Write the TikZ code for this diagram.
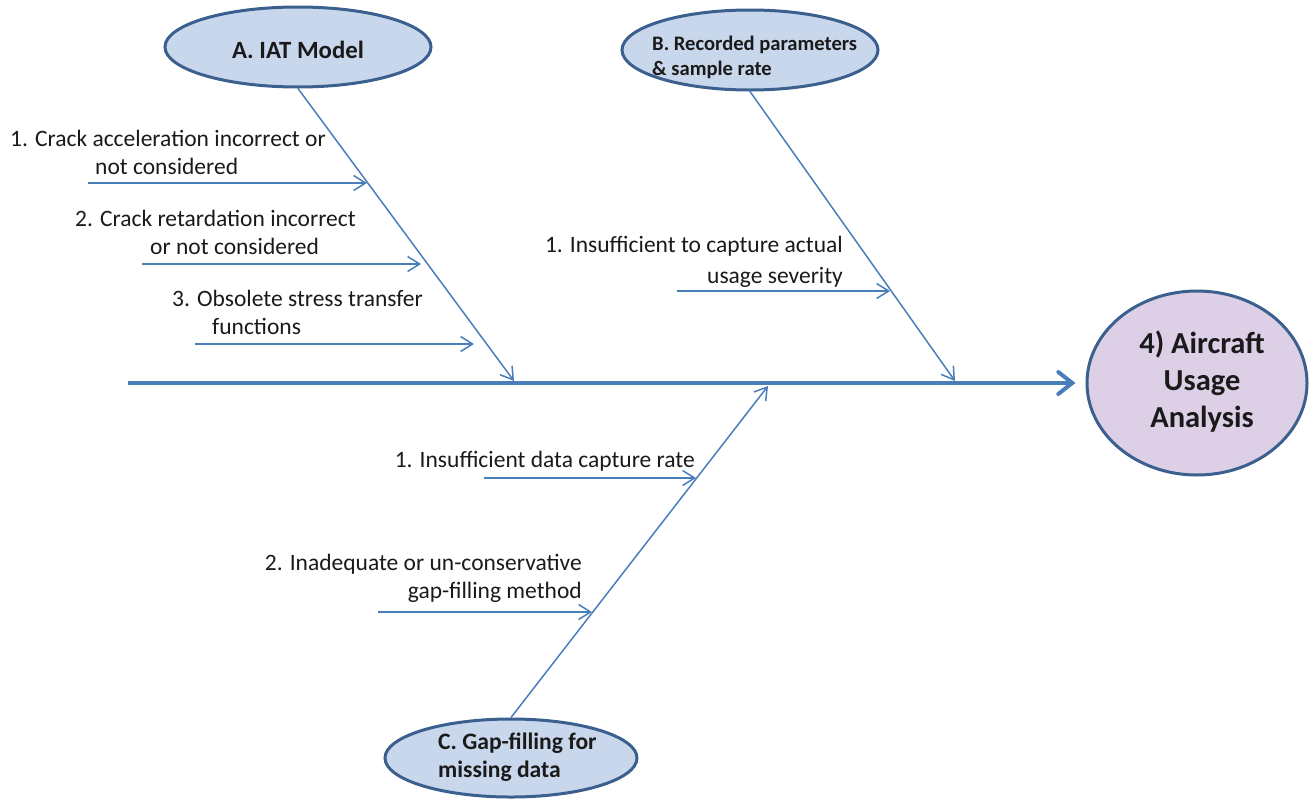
\documentclass[tikz,border=0pt]{standalone}
\usepackage{fontspec}
\setmainfont{Carlito}
\usetikzlibrary{arrows.meta,shapes.geometric}
\definecolor{boneblue}{HTML}{4A7EBB}
\definecolor{rimblue}{HTML}{3B5F8E}
\definecolor{causefill}{HTML}{C8D7EB}
\definecolor{effectfill}{HTML}{DDD0E6}
\definecolor{ink}{HTML}{1A1A1A}
\begin{document}
\begin{tikzpicture}[x=1pt,y=-1pt,
  cause/.style={ellipse, draw=rimblue, line width=3pt, fill=causefill, inner sep=0pt},
  effect/.style={ellipse, draw=rimblue, line width=3pt, fill=effectfill, inner sep=0pt},
  bone/.style={draw=boneblue, line width=1.5pt, -{Straight Barb[length=12pt,width=15pt]}},
  spine/.style={draw=boneblue, line width=4pt, -{Straight Barb[length=14pt,width=22pt,line cap=round]}},
  lbl/.style={font=\fontsize{23.5}{28}\selectfont, text=ink, inner sep=0pt},
  head/.style={text=ink, inner sep=0pt},
]
\useasboundingbox (0,0) rectangle (1313,798);

% cause categories and the effect
\node[cause, minimum width=266pt, minimum height=80pt] (A) at (298,47) {};
\node[cause, minimum width=256pt, minimum height=80pt] (B) at (750,50) {};
\node[cause, minimum width=252pt, minimum height=78pt] (C) at (511,758) {};
\node[effect, minimum width=220pt, minimum height=184pt] (D) at (1197,383) {};

% category titles (a multi-line node sits on the baseline of its last line)
\node[head, font=\bfseries\fontsize{24.8}{28}\selectfont, anchor=base] (At) at (298,58) {A. IAT Model};
\node[head, font=\bfseries\fontsize{20.6}{25}\selectfont, anchor=base west, align=left] (Bt) at (652,75) {B. Recorded parameters\\\& sample rate};
\node[head, font=\bfseries\fontsize{23.6}{28}\selectfont, anchor=base west, align=left] (Ct) at (438,777) {C. Gap-filling for\\missing data};
\node[head, font=\bfseries\fontsize{30.5}{37}\selectfont, anchor=base, align=center] (Dt) at (1202,427) {4) Aircraft\\Usage\\Analysis};

% spine and main bones
\coordinate (S0) at (128,383);
\coordinate (Aj) at (514,381);
\coordinate (Bj) at (955,381);
\coordinate (Cj) at (768,386);
\draw[spine, shorten >=10pt] (S0) -- (D);
\draw[bone] (A.south) -- (Aj);
\draw[bone] (B.south) -- (Bj);
\draw[bone] (C.north) -- (Cj);

% sub-causes
\coordinate (a1s) at (88,183);  \coordinate (a1e) at (367,183);
\coordinate (a2s) at (142,264); \coordinate (a2e) at (421,264);
\coordinate (a3s) at (195,344); \coordinate (a3e) at (474,344);
\coordinate (b1s) at (677,291); \coordinate (b1e) at (890,291);
\coordinate (c1s) at (484,478); \coordinate (c1e) at (696,478);
\coordinate (c2s) at (378,612); \coordinate (c2e) at (592,612);
\draw[bone] (a1s) -- (a1e);
\draw[bone] (a2s) -- (a2e);
\draw[bone] (a3s) -- (a3e);
\draw[bone] (b1s) -- (b1e);
\draw[bone] (c1s) -- (c1e);
\draw[bone] (c2s) -- (c2e);

\node[lbl, anchor=base west, align=left] (a1) at (10,174) {1. Crack acceleration incorrect or\\\hspace*{85pt}not considered};
\node[lbl, anchor=base west, align=left] (a2) at (75,254) {2. Crack retardation incorrect\\\hspace*{75pt}or not considered};
\node[lbl, anchor=base west, align=left] (a3) at (172,334) {3. Obsolete stress transfer\\\hspace*{40pt}functions};
\node[lbl, anchor=base east, align=right] (b1) at (843,283) {1. Insufficient to capture actual\\[3pt]usage severity};
\node[lbl, anchor=base east] (c1) at (695,467) {1. Insufficient data capture rate};
\node[lbl, anchor=base east, align=right] (c2) at (582,598) {2. Inadequate or un-conservative\\gap-filling method};
\end{tikzpicture}
\end{document}
